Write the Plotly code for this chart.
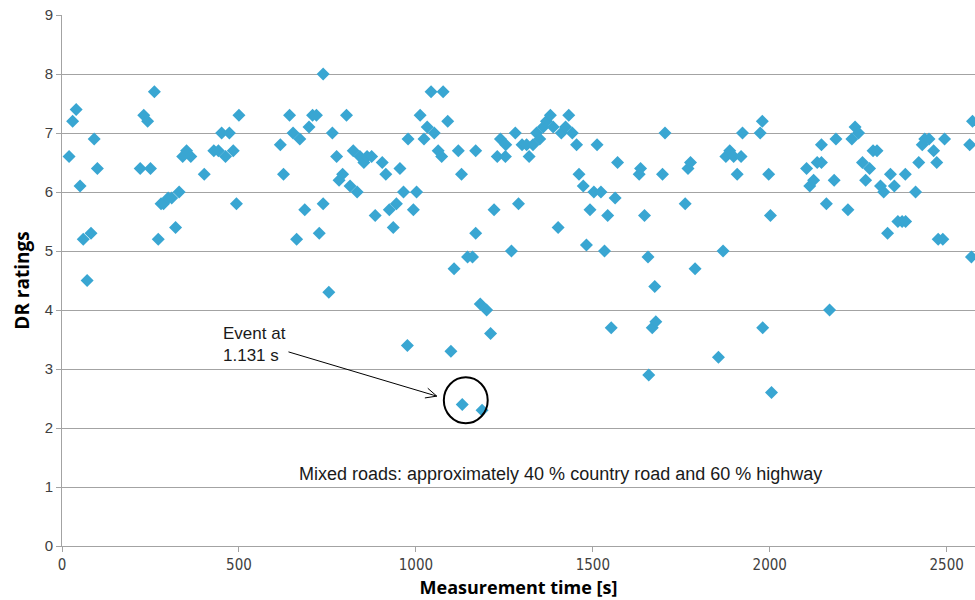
import plotly.graph_objects as go

# Measurement time [s] and DR ratings of each rating sample
time_s = [
    20, 30, 40, 51, 60, 71, 82, 91, 100,
    221, 231, 242, 250, 261, 272, 280, 287, 300, 310, 321, 331, 341, 352, 364,
    402, 429, 442, 451, 462, 473, 484, 493, 500,
    617, 626, 643, 653, 663, 672, 686, 698, 708, 719, 727, 738, 738, 754, 764,
    776, 783, 793, 804, 814, 823, 834, 842, 853, 862, 875, 885, 905, 915, 925,
    936, 945, 955, 965, 976, 978, 993, 1002, 1012, 1023, 1032, 1043, 1052, 1063,
    1073, 1077, 1090, 1099, 1108, 1120, 1129, 1131, 1146, 1160, 1169, 1169, 1182,
    1187, 1200, 1211, 1221, 1230, 1239, 1253, 1254, 1270, 1281, 1290, 1300, 1313,
    1320, 1331, 1341, 1350, 1360, 1369, 1380, 1388, 1402, 1411, 1423, 1432, 1442,
    1454, 1461, 1473, 1482, 1492, 1503, 1512, 1523, 1533, 1542, 1552, 1563, 1570,
    1631, 1635, 1646, 1656, 1658, 1668, 1675, 1678, 1697, 1704,
    1761, 1769, 1776, 1789, 1855, 1868, 1876, 1887, 1898, 1908, 1919, 1923,
    1973, 1979, 1980, 1997, 2002, 2005,
    2104, 2113, 2124, 2134, 2146, 2146, 2160, 2169, 2182, 2187, 2221, 2232, 2241,
    2251, 2262, 2271, 2282, 2292, 2303, 2313, 2322, 2333, 2341, 2352, 2362, 2374,
    2384, 2383, 2412, 2421, 2431, 2438, 2450, 2463, 2472, 2476, 2489, 2494,
    2565, 2570, 2573,
]
dr_rating = [
    6.6, 7.2, 7.4, 6.1, 5.2, 4.5, 5.3, 6.9, 6.4,
    6.4, 7.3, 7.2, 6.4, 7.7, 5.2, 5.8, 5.8, 5.9, 5.9, 5.4, 6.0, 6.6, 6.7, 6.6,
    6.3, 6.7, 6.7, 7.0, 6.6, 7.0, 6.7, 5.8, 7.3,
    6.8, 6.3, 7.3, 7.0, 5.2, 6.9, 5.7, 7.1, 7.3, 7.3, 5.3, 5.8, 8.0, 4.3, 7.0,
    6.6, 6.2, 6.3, 7.3, 6.1, 6.7, 6.0, 6.6, 6.5, 6.6, 6.6, 5.6, 6.5, 6.3, 5.7,
    5.4, 5.8, 6.4, 6.0, 3.4, 6.9, 5.7, 6.0, 7.3, 6.9, 7.1, 7.7, 7.0, 6.7,
    6.6, 7.7, 7.2, 3.3, 4.7, 6.7, 6.3, 2.4, 4.9, 4.9, 5.3, 6.7, 4.1,
    2.3, 4.0, 3.6, 5.7, 6.6, 6.9, 6.6, 6.8, 5.0, 7.0, 5.8, 6.8, 6.8,
    6.6, 6.8, 7.0, 6.9, 7.1, 7.2, 7.3, 7.1, 5.4, 7.0, 7.1, 7.3, 7.0,
    6.8, 6.3, 6.1, 5.1, 5.7, 6.0, 6.8, 6.0, 5.0, 5.6, 3.7, 5.9, 6.5,
    6.3, 6.4, 5.6, 4.9, 2.9, 3.7, 4.4, 3.8, 6.3, 7.0,
    5.8, 6.4, 6.5, 4.7, 3.2, 5.0, 6.6, 6.7, 6.6, 6.3, 6.6, 7.0,
    7.0, 7.2, 3.7, 6.3, 5.6, 2.6,
    6.4, 6.1, 6.2, 6.5, 6.5, 6.8, 5.8, 4.0, 6.2, 6.9, 5.7, 6.9, 7.1,
    7.0, 6.5, 6.2, 6.4, 6.7, 6.7, 6.1, 6.0, 5.3, 6.3, 6.1, 5.5, 5.5,
    5.5, 6.3, 6.0, 6.5, 6.8, 6.9, 6.9, 6.7, 6.5, 5.2, 5.2, 6.9,
    6.8, 4.9, 7.2,
]

x_ticks = [0, 500, 1000, 1500, 2000, 2500]
y_ticks = [0, 1, 2, 3, 4, 5, 6, 7, 8, 9]

event_label = "Event at<br>1.131 s"
road_label = "Mixed roads: approximately 40 % country road and 60 % highway"

# annotation anchors in data units
event_text_pos = (450, 3.8)
arrow_tail = (640, 3.29)
arrow_tip = (1059, 2.54)
event_ring = (1079, 2.08, 1203, 2.86)
road_text_pos = (1410, 1.22)

POINT_BLUE = "#39a6d2"
GRID_GREY = "#a3a3a3"
NARROW = "Liberation Sans Narrow, DejaVu Sans Condensed, Arial Narrow, Liberation Sans, sans-serif"
SANS = "Liberation Sans, Arial, sans-serif"

fig = go.Figure()
fig.add_trace(go.Scatter(
    x=time_s, y=dr_rating, mode="markers",
    marker=dict(symbol="diamond", size=10, color=POINT_BLUE,
                line=dict(width=0)),
    showlegend=False, hoverinfo="x+y",
))

# arrow shaft and open arrow head
fig.add_shape(type="line", xref="x", yref="y",
              x0=arrow_tail[0], y0=arrow_tail[1],
              x1=arrow_tip[0], y1=arrow_tip[1],
              line=dict(color="black", width=1))
fig.add_shape(type="path", xref="x", yref="y",
              xsizemode="pixel", ysizemode="pixel",
              xanchor=arrow_tip[0], yanchor=arrow_tip[1],
              path="M-11.9,-1.8 L0,0 L-9.0,7.9",
              line=dict(color="black", width=1))
# ring around the event point
fig.add_shape(type="circle", xref="x", yref="y",
              x0=event_ring[0], y0=event_ring[1],
              x1=event_ring[2], y1=event_ring[3],
              line=dict(color="black", width=2))

fig.add_annotation(x=event_text_pos[0], y=event_text_pos[1],
                   xref="x", yref="y", text=event_label, showarrow=False,
                   xanchor="left", yanchor="top", align="left",
                   font=dict(family=SANS, size=17, color="#1a1a1a"))
fig.add_annotation(x=road_text_pos[0], y=road_text_pos[1],
                   xref="x", yref="y", text=road_label, showarrow=False,
                   xanchor="center", yanchor="middle",
                   font=dict(family=SANS, size=18, color="#1a1a1a"))

fig.update_layout(
    width=975, height=600,
    margin=dict(l=62, r=0, t=15, b=54),
    paper_bgcolor="white", plot_bgcolor="white",
    xaxis=dict(
        range=[0, 2580], tickvals=x_ticks, ticktext=[str(v) for v in x_ticks],
        showgrid=False, zeroline=False,
        showline=True, linecolor=GRID_GREY, linewidth=1,
        ticks="outside", ticklen=5, tickcolor=GRID_GREY,
        tickfont=dict(family=NARROW, size=15, color="#404040"),
        title=dict(text="<b>Measurement time [s]</b>", standoff=8,
                   font=dict(family="Open Sans, Liberation Sans, sans-serif",
                             size=18, color="black")),
    ),
    yaxis=dict(
        range=[0, 9], tickvals=y_ticks, ticktext=[str(v) for v in y_ticks],
        showgrid=True, gridcolor=GRID_GREY, gridwidth=1, zeroline=False,
        showline=True, linecolor=GRID_GREY, linewidth=1,
        ticks="outside", ticklen=5, tickcolor=GRID_GREY,
        tickfont=dict(family=SANS, size=15, color="#404040"),
        title=dict(text="<b>DR ratings</b>", standoff=10,
                   font=dict(family="Open Sans, Liberation Sans, sans-serif",
                             size=19, color="black")),
    ),
)

fig.write_html("out.html")
